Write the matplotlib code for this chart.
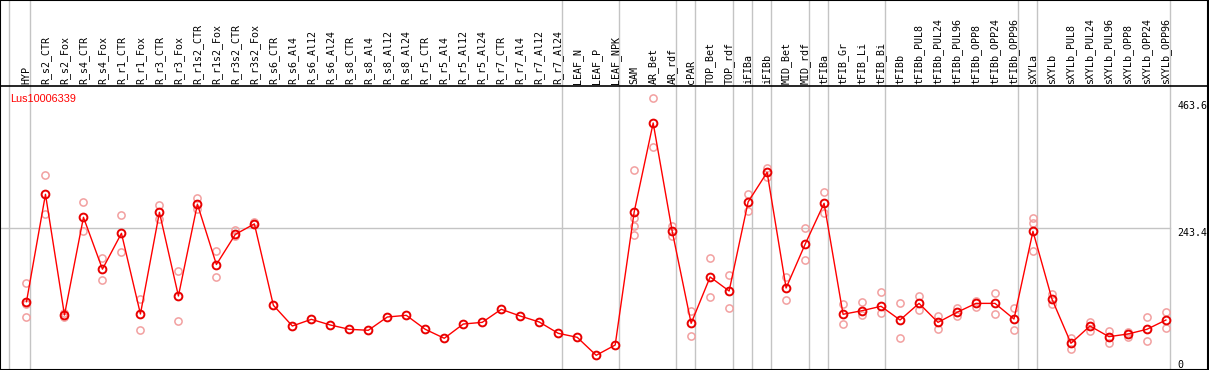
import matplotlib
matplotlib.use("Agg")
import matplotlib.pyplot as plt
import numpy as np

gene = "Lus10006339"

samples = ["HYP", "R_s2_CTR", "R_s2_Fox", "R_s4_CTR", "R_s4_Fox", "R_r1_CTR", "R_r1_Fox",
           "R_r3_CTR", "R_r3_Fox", "R_r1s2_CTR", "R_r1s2_Fox", "R_r3s2_CTR", "R_r3s2_Fox",
           "R_s6_CTR", "R_s6_Al4", "R_s6_Al12", "R_s6_Al24", "R_s8_CTR", "R_s8_Al4",
           "R_s8_Al12", "R_s8_Al24", "R_r5_CTR", "R_r5_Al4", "R_r5_Al12", "R_r5_Al24",
           "R_r7_CTR", "R_r7_Al4", "R_r7_Al12", "R_r7_Al24", "LEAF_N", "LEAF_P", "LEAF_NPK",
           "SAM", "AR_Bet", "AR_rdf", "cPAR", "TOP_Bet", "TOP_rdf", "iFIBa", "iFIBb",
           "MID_Bet", "MID_rdf", "tFIBa", "tFIB_Gr", "tFIB_Li", "tFIB_Bi", "tFIBb",
           "tFIBb_PUL8", "tFIBb_PUL24", "tFIBb_PUL96", "tFIBb_OPP8", "tFIBb_OPP24",
           "tFIBb_OPP96", "sXYLa", "sXYLb", "sXYLb_PUL8", "sXYLb_PUL24", "sXYLb_PUL96",
           "sXYLb_OPP8", "sXYLb_OPP24", "sXYLb_OPP96"]

# number of samples in each group (gray separators)
group_sizes = [1, 28, 3, 3, 1, 2, 1, 1, 2, 1, 3, 7, 1, 7]

means = [116.9, 302, 94, 262.4, 173, 234.8, 95.7, 271, 126.7, 285, 181, 233, 251,
         110.7, 75, 86.5, 76.7, 69.3, 67.6, 90.5, 93.4, 69.3, 53.8, 78.4, 81.3,
         103.8, 92.2, 81.9, 62.4, 55.5, 24.5, 42.2,
         271.6, 425, 238.8, 79.6, 159.5, 135.3, 288.8, 340, 140.5, 215.8, 286.5,
         95.2, 101.4, 109, 85.3, 114, 81.3, 98.6, 114, 114, 87,
         238.2, 121.5, 45.2, 75, 56.6, 61.2, 69.3, 85.3]

replicates = [[148.6, 113, 90], [335, 267.6], [91, 97], [288, 238], [191.7, 153.8],
              [265.8, 202], [121.6, 67.5], [283, 259.5], [169, 83], [295, 276],
              [204, 159], [240.5, 230], [255, 250],
              [], [], [], [], [], [], [], [], [], [], [], [], [], [], [], [], [], [], [],
              [344, 260.7, 247.4, 231.9], [467.6, 383], [247, 230], [100.9, 57.8],
              [191.7, 125], [162.4, 106], [302, 272.7], [348, 332], [159.5, 119],
              [243.4, 188.8], [306, 270], [113, 79], [116.4, 94.5], [133.6, 96.9],
              [114, 53.8], [126.7, 102], [92.8, 70.4], [105.5, 91.7], [118.6, 108],
              [131.9, 95.2], [105.5, 68], [261.7, 252, 204.3], [130, 113],
              [54.8, 35.9], [82.4, 66.4], [66.4, 45.2], [65.2, 56.6], [90.5, 48.6],
              [98.6, 71.5]]

y_ticks = [0, 243.4, 463.6]

x = np.arange(len(samples))

fig = plt.figure(figsize=(12.09, 3.70), dpi=100)
ax = fig.add_axes([0, 0, 1, 1])
ax.set_xlim(-1.395, 62.27)
ax.set_ylim(-0.86, 637)
ax.axis("off")

gray = "#c4c4c4"
top_line = 488.8

# group separators
ends = np.concatenate([[-1], np.cumsum(group_sizes) - 1]) + 0.2
ends[0] = -0.9
for e in ends:
    ax.axvline(e, color=gray, lw=1, zorder=1)
right = ends[-1]

ax.plot([-1.395, right], [243.4, 243.4], color=gray, lw=1, zorder=1)

# frame
ax.axhline(top_line, color="black", lw=1.2, zorder=2)
ax.axhline(0, color="black", lw=1.5, zorder=2)
ax.axhline(636.5, color="black", lw=1.5, zorder=2)
ax.axvline(-1.37, color="black", lw=1.5, zorder=2)
ax.axvline(62.2, color="black", lw=1.5, zorder=2)

# sample labels
for xi, name in zip(x, samples):
    ax.text(xi, 492.5, name, rotation=90, ha="center", va="bottom",
            family="DejaVu Sans Mono", fontsize=7.2, color="black")

for xi, reps in zip(x, replicates):
    if reps:
        ax.plot([xi] * len(reps), reps, "o", ms=5.2, mfc="none", mec="#f2a0a0", mew=1.1, zorder=3)

ax.plot(x, means, "-", color="#ff0000", lw=1, zorder=4)
ax.plot(x, means, "o", ms=5.6, mfc="none", mec="#e80000", mew=1.4, zorder=5)

ax.text(-0.87, 475, gene, color="red", family="Liberation Sans", fontsize=7.8,
        ha="left", va="top")

for v in y_ticks:
    ax.text(60.6, v, str(v) if v else "0", ha="left", va="bottom" if v == 0 else "top",
            family="DejaVu Sans Mono", fontsize=7.2, color="black")

plt.savefig("out.png", dpi=100)
